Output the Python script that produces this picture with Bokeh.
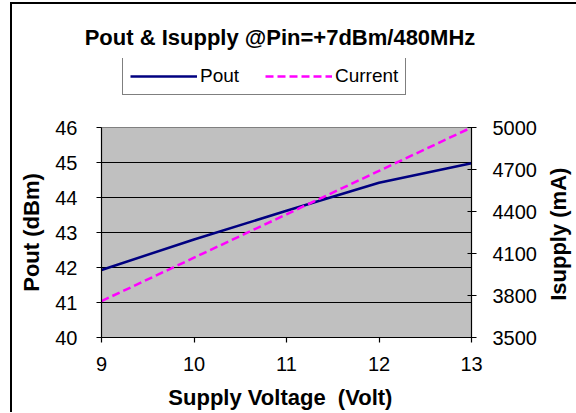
import math
from bokeh.plotting import figure
from bokeh.layouts import column
from bokeh.models import (Range1d, LinearAxis, FixedTicker, Title, Legend, LegendItem)
from bokeh.embed import file_html
from bokeh.resources import INLINE

# Data
voltage = [9, 10, 11, 12, 13]
pout = [41.93, 42.8, 43.62, 44.42, 44.98]
current = [3760, 4070, 4380, 4690, 5000]
x_ticks = [9, 10, 11, 12, 13]
left_ticks = [40, 41, 42, 43, 44, 45, 46]
right_ticks = [3500, 3800, 4100, 4400, 4700, 5000]

FONT = "Liberation Sans"
POUT_STYLE = dict(line_color="#000080", line_width=2.5)
CUR_STYLE = dict(line_color="#ff00ff", line_width=2.5, line_dash="8 4")

# ---------- header: title + legend ----------
top = figure(width=561, height=106, x_range=Range1d(0, 1), y_range=Range1d(0, 1),
             x_axis_type=None, y_axis_type=None, title=None,
             min_border_left=89, min_border_right=102,
             min_border_top=54, min_border_bottom=0,
             output_backend="svg", toolbar_location=None,
             background_fill_color="white", border_fill_color="white")
top.grid.visible = False
top.outline_line_color = None
# legend proxies (data lies outside this header's ranges, so only the legend shows them)
leg_pout = top.line(voltage, pout, **POUT_STYLE)
leg_cur = top.line(voltage, current, **CUR_STYLE)

lg = Legend(items=[LegendItem(label="Pout", renderers=[leg_pout]),
                   LegendItem(label="Current", renderers=[leg_cur])],
            orientation="horizontal", location=(21, 15), margin=0)
lg.border_line_color = "black"
lg.border_line_width = 1
lg.background_fill_color = "white"
lg.background_fill_alpha = 1
lg.label_text_font = FONT
lg.label_text_font_size = "19px"
lg.label_text_color = "black"
lg.padding = 7
lg.spacing = 3
lg.glyph_width = 67
lg.glyph_height = 16
lg.label_standoff = 3
lg.label_width = 62
top.add_layout(lg, "center")

top.add_layout(Title(text="Pout & Isupply @Pin=+7dBm/480MHz", align="center",
                     offset=-8, standoff=18,
                     text_font=FONT, text_font_size="22px", text_font_style="bold",
                     text_color="black"), "above")

# ---------- main chart ----------
p = figure(frame_width=370, frame_height=210,
           min_border_left=89, min_border_right=102,
           min_border_top=17, min_border_bottom=74,
           x_range=Range1d(9, 13), y_range=Range1d(40, 46),
           title=None,
           output_backend="svg", toolbar_location=None,
           background_fill_color="#c0c0c0", border_fill_color="white")
p.outline_line_color = "#808080"
p.extra_y_ranges = {"cur": Range1d(3500, 5000)}

p.xgrid.visible = False
p.ygrid.grid_line_color = "black"
p.ygrid.grid_line_width = 1.2
p.ygrid.ticker = FixedTicker(ticks=left_ticks)

p.xaxis.ticker = FixedTicker(ticks=x_ticks)
p.yaxis.ticker = FixedTicker(ticks=left_ticks)
p.xaxis.axis_label = "Supply Voltage\u00a0 (Volt)\u00a0\u00a0"
p.yaxis.axis_label = "Pout (dBm)"

rax = LinearAxis(y_range_name="cur", ticker=FixedTicker(ticks=right_ticks),
                 axis_label="\u00a0" * 6 + "Isupply (mA)")
p.add_layout(rax, "right")

for ax in [p.xaxis[0], p.yaxis[0], rax]:
    ax.axis_line_color = "black"
    ax.axis_line_width = 1.2
    ax.major_tick_line_color = "black"
    ax.major_tick_line_width = 1.2
    ax.major_tick_out = 5
    ax.major_tick_in = 0
    ax.minor_tick_line_color = None
    ax.major_label_text_font = FONT
    ax.major_label_text_font_size = "20px"
    ax.major_label_text_color = "black"
    ax.axis_label_text_font = FONT
    ax.axis_label_text_font_size = "22px"
    ax.axis_label_text_font_style = "bold"
    ax.axis_label_text_color = "black"
rax.major_tick_in = 4
p.yaxis.major_label_standoff = 19
rax.major_label_standoff = 16
p.xaxis.major_label_standoff = 14
p.xaxis.axis_label_standoff = 11
p.yaxis.axis_label_standoff = 8
rax.axis_label_standoff = 19
try:
    rax.axis_label_orientation = math.pi / 2
    rax.axis_label_align = "start"
except Exception:
    pass

p.line(voltage, pout, **POUT_STYLE)
p.line(voltage, current, y_range_name="cur", **CUR_STYLE)

layout = column(top, p, spacing=0)
layout.styles = {"border-left": "2px solid black", "border-top": "2px solid black",
                 "margin-left": "10px", "margin-top": "2px"}

open("out.html", "w").write(file_html(layout, INLINE))
